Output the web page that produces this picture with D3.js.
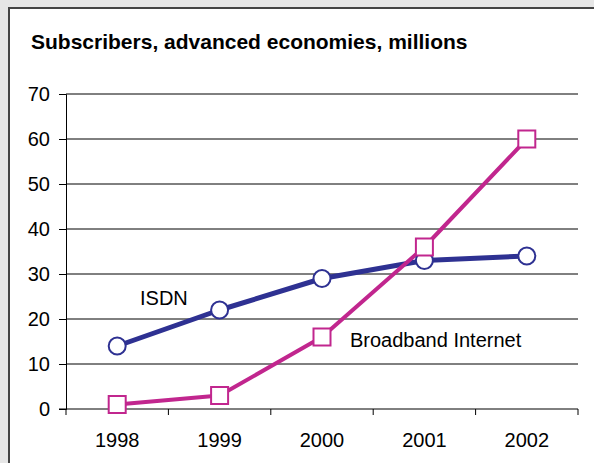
<!DOCTYPE html>
<html>
<head>
<meta charset="utf-8">
<script src="https://cdn.jsdelivr.net/npm/d3@7"></script>
<style>
  html, body { margin: 0; padding: 0; background: #e6e6e6; }
  svg { display: block; }
</style>
</head>
<body>
<svg id="chart" width="594" height="463"></svg>
<script>
const years = ["1998", "1999", "2000", "2001", "2002"];
const isdn = [14, 22, 29, 33, 34];
const broadband = [1, 3, 16, 36, 60];
const yTicks = [0, 10, 20, 30, 40, 50, 60, 70];

const svg = d3.select("#chart");
const W = 594, H = 463;
const font = "'Liberation Sans', Arial, sans-serif";

// white panel with dark frame
svg.append("rect")
  .attr("x", 9).attr("y", 8)
  .attr("width", W + 10).attr("height", H + 10)
  .attr("fill", "#fff")
  .attr("stroke", "#444").attr("stroke-width", 2);

svg.append("text")
  .attr("x", 31).attr("y", 49)
  .attr("font-family", font).attr("font-size", 21).attr("font-weight", "bold")
  .attr("fill", "#000")
  .text("Subscribers, advanced economies, millions");

const plotL = 66, plotR = 578, plotT = 94, plotB = 409;

const x = d3.scaleBand().domain(years).range([plotL, plotR]);
const y = d3.scaleLinear().domain([0, 70]).range([plotB, plotT]);

// horizontal gridlines
svg.append("g")
  .selectAll("line")
  .data(yTicks.filter(d => d > 0))
  .join("line")
  .attr("x1", plotL).attr("x2", plotR)
  .attr("y1", d => y(d)).attr("y2", d => y(d))
  .attr("stroke", "#000").attr("stroke-width", 1);

// y axis
const yAxis = svg.append("g")
  .attr("transform", `translate(${plotL},0)`)
  .call(d3.axisLeft(y).tickValues(yTicks).tickSize(7).tickPadding(9));
yAxis.select(".domain").attr("stroke", "#000");
yAxis.selectAll(".tick line").attr("stroke", "#000");
yAxis.selectAll("text")
  .attr("font-family", font).attr("font-size", 20).attr("fill", "#000");

// x axis with ticks at band boundaries
const xAxis = svg.append("g").attr("transform", `translate(0,${plotB})`);
xAxis.append("line")
  .attr("x1", plotL - 7).attr("x2", plotR)
  .attr("stroke", "#000");
const bounds = years.map(d => x(d)).concat([plotR]);
xAxis.selectAll("line.tk")
  .data(bounds)
  .join("line")
  .attr("class", "tk")
  .attr("x1", d => d).attr("x2", d => d)
  .attr("y1", 0).attr("y2", 6)
  .attr("stroke", "#000");
xAxis.selectAll("text")
  .data(years)
  .join("text")
  .attr("x", d => x(d) + x.bandwidth() / 2)
  .attr("y", 38)
  .attr("text-anchor", "middle")
  .attr("font-family", font).attr("font-size", 20).attr("fill", "#000")
  .text(d => d);

const cx = d => x(d) + x.bandwidth() / 2;
const line = d3.line().x((d, i) => cx(years[i])).y(d => y(d));

const navy = "#2e3192", magenta = "#c1268e";

// ISDN series
svg.append("path")
  .datum(isdn)
  .attr("d", line)
  .attr("fill", "none").attr("stroke", navy).attr("stroke-width", 5)
  .attr("stroke-linejoin", "round");

// Broadband series
svg.append("path")
  .datum(broadband)
  .attr("d", line)
  .attr("fill", "none").attr("stroke", magenta).attr("stroke-width", 4)
  .attr("stroke-linejoin", "round");

svg.append("g")
  .selectAll("circle")
  .data(isdn)
  .join("circle")
  .attr("cx", (d, i) => cx(years[i]))
  .attr("cy", d => y(d))
  .attr("r", 8.5)
  .attr("fill", "#fff").attr("stroke", navy).attr("stroke-width", 2);

svg.append("g")
  .selectAll("rect")
  .data(broadband)
  .join("rect")
  .attr("x", (d, i) => cx(years[i]) - 8.5)
  .attr("y", d => y(d) - 8.5)
  .attr("width", 17).attr("height", 17)
  .attr("fill", "#fff").attr("stroke", magenta).attr("stroke-width", 2);

// series labels
svg.append("text")
  .attr("x", 140).attr("y", 305)
  .attr("font-family", font).attr("font-size", 20).attr("fill", "#000")
  .text("ISDN");
svg.append("text")
  .attr("x", 350).attr("y", 347)
  .attr("font-family", font).attr("font-size", 20).attr("fill", "#000")
  .text("Broadband Internet");
</script>
</body>
</html>
